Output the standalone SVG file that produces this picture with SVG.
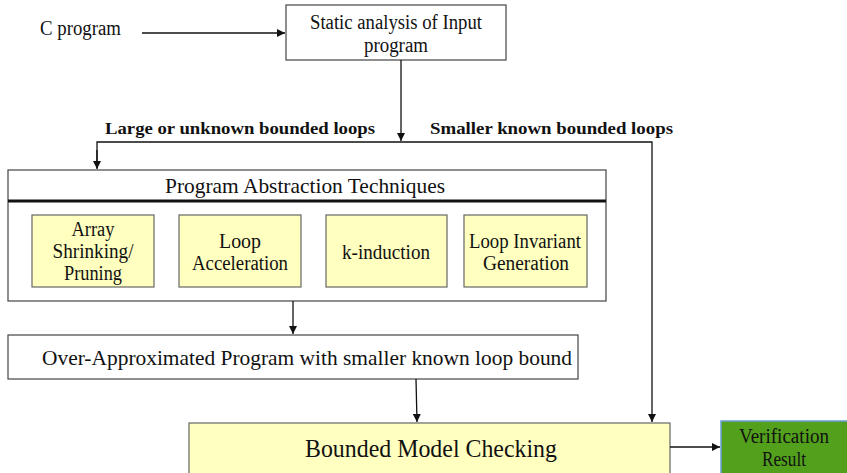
<svg xmlns="http://www.w3.org/2000/svg" width="847" height="473" viewBox="0 0 847 473" font-family="Liberation Serif, DejaVu Serif, serif">
<style>
text{fill:#111;}
.box{fill:#fff;stroke:#444;stroke-width:1.2;}
.yb{fill:#ffffc0;stroke:#666;stroke-width:1.2;}
.c{stroke:#111;stroke-width:1.3;fill:none;}
.lbl{font-weight:bold;font-size:17px;}
.t{font-size:20px;text-anchor:middle;}
</style>
<defs>
<marker id="ah" viewBox="0 0 10 10" refX="10" refY="5" markerWidth="8" markerHeight="8" markerUnits="userSpaceOnUse" orient="auto">
<path d="M0,0 L10,5 L0,10 z" fill="#111"/>
</marker>
</defs>

<g id="cprog"><text x="40" y="35" font-size="20" textLength="81" lengthAdjust="spacingAndGlyphs">C program</text></g>

<g id="static">
<rect class="box" x="286" y="5" width="220" height="55"/>
<text class="t" x="396" y="29" textLength="172" lengthAdjust="spacingAndGlyphs">Static analysis of Input</text>
<text class="t" x="396" y="52" textLength="64" lengthAdjust="spacingAndGlyphs">program</text>
</g>

<g id="labels">
<text class="lbl" x="105" y="134" textLength="270" lengthAdjust="spacingAndGlyphs">Large or unknown bounded loops</text>
<text class="lbl" x="430" y="134" textLength="243" lengthAdjust="spacingAndGlyphs">Smaller known bounded loops</text>
</g>

<g id="pat">
<rect class="box" x="8" y="170" width="598" height="131"/>
<line x1="8" y1="201" x2="606" y2="201" stroke="#111" stroke-width="3"/>
<text x="305" y="193" font-size="21" text-anchor="middle" textLength="280" lengthAdjust="spacingAndGlyphs">Program Abstraction Techniques</text>
</g>
<g id="array">
<rect class="yb" x="32" y="215" width="122" height="72"/>
<text class="t" x="93" y="236" textLength="43" lengthAdjust="spacingAndGlyphs">Array</text>
<text class="t" x="93" y="258" textLength="81" lengthAdjust="spacingAndGlyphs">Shrinking/</text>
<text class="t" x="93" y="280" textLength="58" lengthAdjust="spacingAndGlyphs">Pruning</text>
</g>
<g id="accel">
<rect class="yb" x="179" y="215" width="122" height="72"/>
<text class="t" x="240" y="248" textLength="42" lengthAdjust="spacingAndGlyphs">Loop</text>
<text class="t" x="240" y="270" textLength="96" lengthAdjust="spacingAndGlyphs">Acceleration</text>
</g>
<g id="kind">
<rect class="yb" x="326" y="215" width="121" height="72"/>
<text class="t" x="386" y="259" textLength="88" lengthAdjust="spacingAndGlyphs">k-induction</text>
</g>
<g id="inv">
<rect class="yb" x="464" y="215" width="123" height="72"/>
<text class="t" x="525" y="248" textLength="112" lengthAdjust="spacingAndGlyphs">Loop Invariant</text>
<text class="t" x="526" y="270" textLength="86" lengthAdjust="spacingAndGlyphs">Generation</text>
</g>

<g id="overapprox">
<rect class="box" x="8" y="335" width="570" height="44"/>
<text x="307" y="365" font-size="21" text-anchor="middle" textLength="530" lengthAdjust="spacingAndGlyphs">Over-Approximated Program with smaller known loop bound</text>
</g>

<g id="bmc">
<rect class="yb" x="189" y="423" width="481" height="56"/>
<text x="431" y="457" font-size="26" text-anchor="middle" textLength="252" lengthAdjust="spacingAndGlyphs">Bounded Model Checking</text>
</g>

<g id="result">
<rect x="721" y="421" width="128" height="56" fill="#52a01c" stroke="#6b9fd4" stroke-width="1.5"/>
<text class="t" x="784" y="443" textLength="90" lengthAdjust="spacingAndGlyphs">Verification</text>
<text class="t" x="784" y="466" textLength="44" lengthAdjust="spacingAndGlyphs">Result</text>
</g>

<g id="connectors">
<line class="c" x1="142" y1="33" x2="285" y2="33" marker-end="url(#ah)"/>
<line class="c" x1="401" y1="60" x2="401" y2="141" marker-end="url(#ah)"/>
<polyline class="c" points="97,168 97,142 652,142 652,422" marker-end="url(#ah)"/>
<line class="c" x1="97" y1="150" x2="97" y2="169" marker-end="url(#ah)"/>
<line class="c" x1="293" y1="301" x2="293" y2="334" marker-end="url(#ah)"/>
<line class="c" x1="416" y1="379" x2="417" y2="422" marker-end="url(#ah)"/>
<line class="c" x1="670" y1="447" x2="720" y2="447" marker-end="url(#ah)"/>
</g>
</svg>
